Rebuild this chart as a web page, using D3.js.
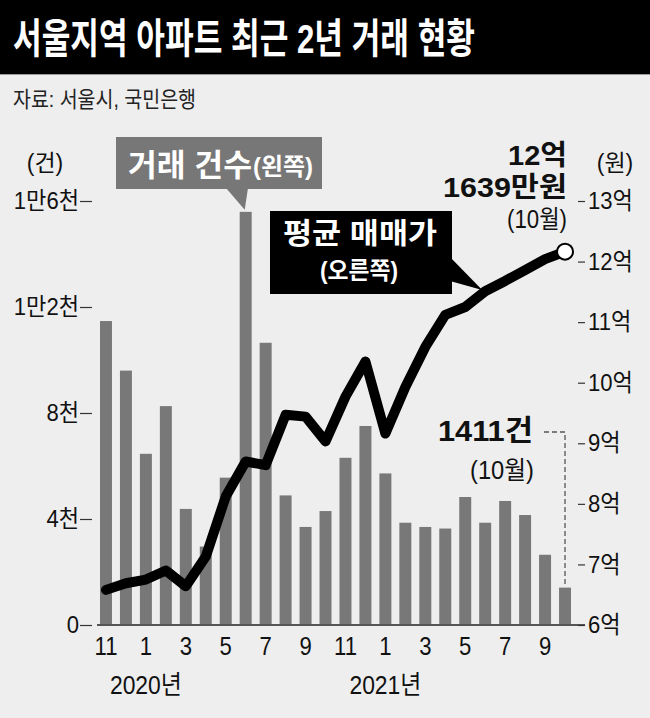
<!DOCTYPE html>
<html>
<head>
<meta charset="utf-8">
<script src="https://cdn.jsdelivr.net/npm/d3@7"></script>
<style>
  body { margin: 0; background: #eeeeee; }
  svg { display: block; }
  text { font-family: "Liberation Sans", "Noto Sans CJK KR", sans-serif; fill: #111; }
</style>
</head>
<body>
<div id="chart"></div>
<script>
(function(){

    // 2019년 11월 ~ 2021년 10월
    var months = ["2019-11","2019-12","2020-01","2020-02","2020-03","2020-04","2020-05","2020-06",
                  "2020-07","2020-08","2020-09","2020-10","2020-11","2020-12","2021-01","2021-02",
                  "2021-03","2021-04","2021-05","2021-06","2021-07","2021-08","2021-09","2021-10"];
    var monthLabels = ["11","12","1","2","3","4","5","6","7","8","9","10",
                       "11","12","1","2","3","4","5","6","7","8","9","10"];
    var yearLabels = [{at: "2020-01", text: "2020년"}, {at: "2021-01", text: "2021년"}];

    /* 거래 건수 (건) */
    var counts = [11470, 9600, 6460, 8260, 4380, 2960, 5560, 15590, 10650, 4890, 3700, 4300,
                  6310, 7510, 5720, 3860, 3700, 3640, 4830, 3860, 4680, 4150, 2650, 1411];
    /* 평균 매매가 (억원) */
    var prices = [6.58, 6.69, 6.75, 6.90, 6.64, 7.13, 8.12, 8.70, 8.64, 9.47, 9.44, 9.03,
                  9.77, 10.35, 9.16, 9.93, 10.59, 11.12, 11.25, 11.51, 11.68, 11.86, 12.04, 12.1639];

    var leftTicks = [0, 4000, 8000, 12000, 16000];
    var leftTickLabels = ["0", "4천", "8천", "1만2천", "1만6천"];
    var rightTicks = [6, 7, 8, 9, 10, 11, 12, 13];
    var rightTickLabels = ["6억", "7억", "8억", "9억", "10억", "11억", "12억", "13억"];

    var chart = {
        width: 650,
        height: 718,
        left: 96,
        right: 575,
        top: 201,
        bottom: 625,
        barColor: "#787878"
    };

    var svg = d3.select("#chart")
        .append("svg")
        .attr("width", chart.width)
        .attr("height", chart.height);

    function fit(sel, w) {
        sel.attr("textLength", w).attr("lengthAdjust", "spacingAndGlyphs");
        return sel;
    }
    function squeeze(sel, k) {
        sel.each(function(){
            var l = this.getComputedTextLength();
            d3.select(this).attr("textLength", l * k).attr("lengthAdjust", "spacingAndGlyphs");
        });
    }

    /* 배경, 제목 */
    svg.append("rect").attr("width", chart.width).attr("height", chart.height).style("fill", "#eeeeee");
    svg.append("rect").attr("width", chart.width).attr("height", 74).style("fill", "#000");
    svg.append("line").attr("x1", 0).attr("x2", chart.width).attr("y1", 74.5).attr("y2", 74.5)
        .style("stroke", "#9a9a9a").style("stroke-width", 1);

    fit(svg.append("text")
        .attr("x", 13).attr("y", 53)
        .text("서울지역 아파트 최근 2년 거래 현황")
        .style("font-size", "41px").style("font-weight", "bold").style("fill", "#fff"), 462);

    fit(svg.append("text")
        .attr("x", 13).attr("y", 107)
        .text("자료: 서울시, 국민은행")
        .style("font-size", "22px").style("fill", "#222"), 183);

    /* 축 */
    var x = d3.scaleBand()
        .domain(months)
        .range([chart.left, chart.right])
        .paddingInner(0.4)
        .paddingOuter(0.2);

    var yLeft = d3.scaleLinear().domain([0, 16000]).range([chart.bottom, chart.top]);
    var yRight = d3.scaleLinear().domain([6, 13]).range([chart.bottom, chart.top]);

    var cx = function(m){ return x(m) + x.bandwidth() / 2; };

    /* 막대 */
    svg.append("g")
        .selectAll("rect")
        .data(counts)
        .enter()
        .append("rect")
        .attr("x", function(d, i){ return x(months[i]); })
        .attr("y", function(d){ return yLeft(d); })
        .attr("width", x.bandwidth())
        .attr("height", function(d){ return yLeft(0) - yLeft(d); })
        .style("fill", chart.barColor);

    /* 기준선 */
    svg.append("line")
        .attr("x1", 97).attr("x2", 585)
        .attr("y1", yLeft(0)).attr("y2", yLeft(0))
        .style("stroke", "#555").style("stroke-width", 2);

    var gLeft = svg.append("g")
        .attr("transform", "translate(92,0)")
        .call(d3.axisLeft(yLeft)
            .tickValues(leftTicks)
            .tickSize(12)
            .tickPadding(1)
            .tickFormat(function(d, i){ return leftTickLabels[i]; }));
    gLeft.select(".domain").remove();
    gLeft.selectAll("line").style("stroke", "#333").style("stroke-width", 1.2);
    gLeft.selectAll("text").style("font-size", "24px").style("fill", "#111").attr("font-family", null);
    squeeze(gLeft.selectAll("text"), 0.92);

    var gRight = svg.append("g")
        .attr("transform", "translate(578,0)")
        .call(d3.axisRight(yRight)
            .tickValues(rightTicks)
            .tickSize(7)
            .tickPadding(3)
            .tickFormat(function(d, i){ return rightTickLabels[i]; }));
    gRight.select(".domain").remove();
    gRight.selectAll("line").style("stroke", "#333").style("stroke-width", 1.2);
    gRight.selectAll("text").style("font-size", "24px").style("fill", "#111").attr("font-family", null);
    squeeze(gRight.selectAll("text"), 0.92);

    var gBottom = svg.append("g")
        .attr("transform", "translate(0," + chart.bottom + ")")
        .call(d3.axisBottom(x)
            .tickValues(months.filter(function(d, i){ return i % 2 === 0; }))
            .tickSize(0)
            .tickPadding(12)
            .tickFormat(function(d){ return monthLabels[months.indexOf(d)]; }));
    gBottom.select(".domain").remove();
    gBottom.selectAll("text").style("font-size", "26px").style("fill", "#111").attr("font-family", null);
    squeeze(gBottom.selectAll("text"), 0.85);

    svg.selectAll("text.year")
        .data(yearLabels)
        .enter()
        .append("text")
        .attr("class", "year")
        .attr("x", function(d){ return cx(d.at); })
        .attr("y", 694)
        .attr("text-anchor", "middle")
        .text(function(d){ return d.text; })
        .style("font-size", "26px");
    squeeze(svg.selectAll("text.year"), 0.88);

    /* 단위 */
    svg.append("text").attr("x", 45).attr("y", 171).attr("text-anchor", "middle")
        .text("(건)").style("font-size", "23px");
    svg.append("text").attr("x", 615).attr("y", 171).attr("text-anchor", "middle")
        .text("(원)").style("font-size", "23px");

    /* 평균 매매가 선 */
    var line = d3.line()
        .x(function(d, i){ return cx(months[i]); })
        .y(function(d){ return yRight(d); });

    svg.append("path")
        .datum(prices)
        .attr("d", line)
        .style("fill", "none")
        .style("stroke", "#000")
        .style("stroke-width", 10)
        .style("stroke-linejoin", "round")
        .style("stroke-linecap", "round");

    var last = prices.length - 1;
    svg.append("circle")
        .attr("cx", cx(months[last]))
        .attr("cy", yRight(prices[last]))
        .attr("r", 8)
        .style("fill", "#fff")
        .style("stroke", "#000")
        .style("stroke-width", 2);

    /* 거래 건수(왼쪽) 말풍선 */
    var peak = 7;
    svg.append("rect").attr("x", 116).attr("y", 137).attr("width", 206).attr("height", 52)
        .style("fill", "#777");
    svg.append("path")
        .attr("d", "M226,188 L248,188 L" + (cx(months[peak]) - 1) + "," + (yLeft(counts[peak]) - 2) + "Z")
        .style("fill", "#777");
    fit(svg.append("text").attr("x", 128).attr("y", 176)
        .text("거래 건수").style("font-size", "31px").style("font-weight", "bold").style("fill", "#fff"), 124);
    fit(svg.append("text").attr("x", 253).attr("y", 175)
        .text("(왼쪽)").style("font-size", "24px").style("font-weight", "bold").style("fill", "#fff"), 60);

    /* 평균 매매가(오른쪽) 말풍선 */
    svg.append("rect").attr("x", 270).attr("y", 211).attr("width", 182).attr("height", 83)
        .style("fill", "#000");
    svg.append("path")
        .attr("d", "M450,257 L450,281 L" + (cx(months[18]) + 17) + "," + (yRight(prices[18]) - 17) + "Z")
        .style("fill", "#000");
    fit(svg.append("text").attr("x", 283).attr("y", 244)
        .text("평균 매매가").style("font-size", "29px").style("font-weight", "bold").style("fill", "#fff"), 154);
    fit(svg.append("text").attr("x", 320).attr("y", 279)
        .text("(오른쪽)").style("font-size", "24px").style("font-weight", "bold").style("fill", "#fff"), 78);

    /* 최근 값 */
    fit(svg.append("text").attr("x", 508).attr("y", 165)
        .text("12억").style("font-size", "28px").style("font-weight", "bold"), 59);
    fit(svg.append("text").attr("x", 443).attr("y", 197)
        .text("1639만원").style("font-size", "28px").style("font-weight", "bold"), 124);
    fit(svg.append("text").attr("x", 507).attr("y", 228)
        .text("(10월)").style("font-size", "25px"), 60);

    fit(svg.append("text").attr("x", 438).attr("y", 441)
        .text("1411건").style("font-size", "29px").style("font-weight", "bold"), 95);
    fit(svg.append("text").attr("x", 470).attr("y", 479)
        .text("(10월)").style("font-size", "25px"), 64);

    var lx = cx(months[last]);
    svg.append("path")
        .attr("d", "M544,432 H" + lx + " V" + (yLeft(counts[last]) - 2))
        .style("fill", "none")
        .style("stroke", "#555")
        .style("stroke-width", 1.3)
        .style("stroke-dasharray", "5,3");

})();
</script>
</body>
</html>
